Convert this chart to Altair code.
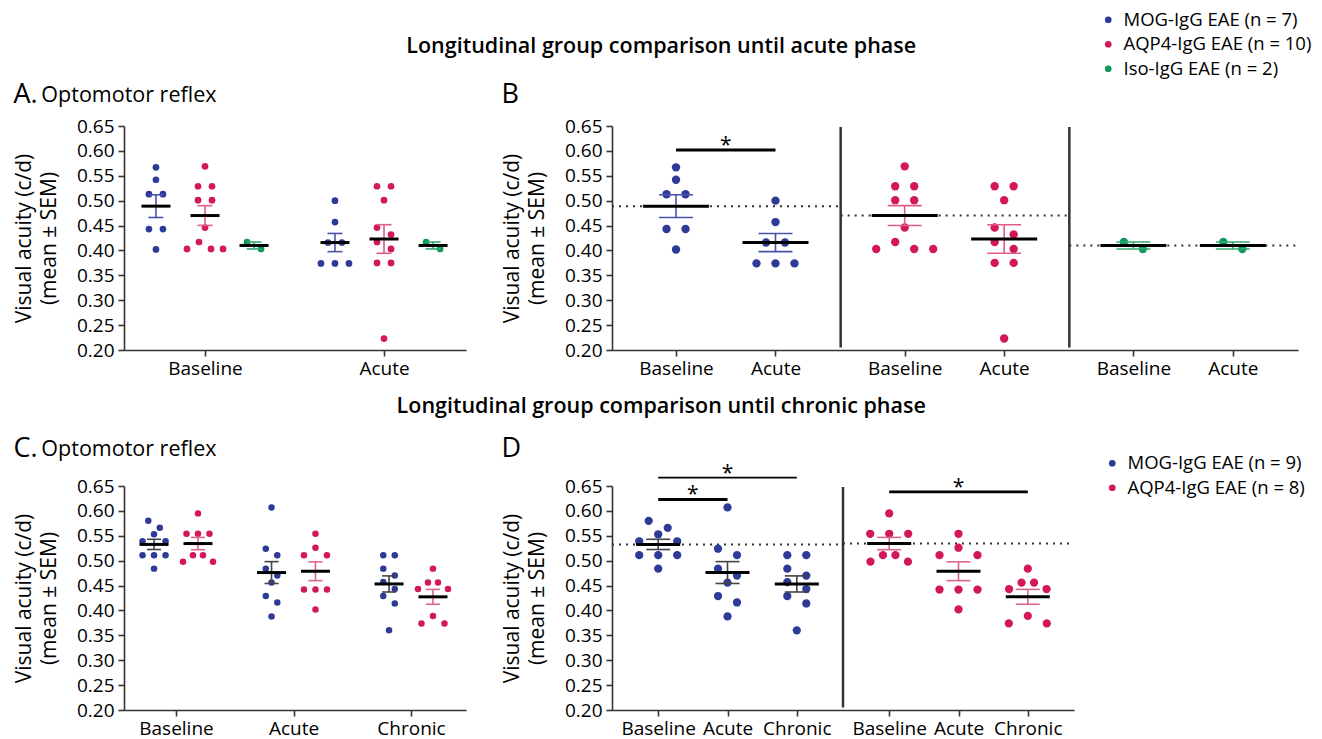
import json
import altair as alt
import numpy as np
import pandas as pd

FONT = "Open Sans"

# ---------------- data (visual acuity, c/d) ----------------
timepoints = ["Baseline", "Acute", "Chronic"]

# cohort followed until the acute phase (panels A and B)
groups_acute = ["MOG-IgG EAE (n = 7)", "AQP4-IgG EAE (n = 10)", "Iso-IgG EAE (n = 2)"]
mog7_baseline = [0.567, 0.542, 0.513, 0.513, 0.443, 0.443, 0.402]
mog7_acute = [0.500, 0.457, 0.416, 0.416, 0.374, 0.374, 0.374]
aqp4_10_baseline = [0.569, 0.529, 0.529, 0.501, 0.501, 0.446, 0.417, 0.403, 0.403, 0.403]
aqp4_10_acute = [0.529, 0.529, 0.501, 0.446, 0.432, 0.417, 0.403, 0.375, 0.375, 0.223]
iso2_baseline = [0.417, 0.403]
iso2_acute = [0.417, 0.403]

# cohort followed until the chronic phase (panels C and D)
groups_chronic = ["MOG-IgG EAE (n = 9)", "AQP4-IgG EAE (n = 8)"]
mog9_baseline = [0.580, 0.566, 0.553, 0.539, 0.539, 0.511, 0.511, 0.511, 0.484]
mog9_acute = [0.607, 0.524, 0.511, 0.484, 0.470, 0.456, 0.429, 0.416, 0.388]
mog9_chronic = [0.511, 0.511, 0.484, 0.470, 0.457, 0.443, 0.429, 0.414, 0.360]
aqp4_8_baseline = [0.595, 0.554, 0.554, 0.554, 0.511, 0.511, 0.498, 0.498]
aqp4_8_acute = [0.554, 0.526, 0.511, 0.511, 0.442, 0.442, 0.442, 0.402]
aqp4_8_chronic = [0.484, 0.456, 0.456, 0.443, 0.443, 0.389, 0.374, 0.374]

# significance brackets: group index, from timepoint, to timepoint, bracket level
sig_acute = [(0, 0, 1, 0.602)]
sig_chronic = [(0, 0, 1, 0.623), (0, 0, 2, 0.667), (1, 0, 2, 0.638)]

header_acute = "Longitudinal group comparison until acute phase"
header_chronic = "Longitudinal group comparison until chronic phase"
y_title = ["Visual acuity (c/d)", "(mean \u00b1 SEM)"]
y_ticks = [0.20, 0.25, 0.30, 0.35, 0.40, 0.45, 0.50, 0.55, 0.60, 0.65]

# ---------------- styles ----------------
dot_colors_acute = ["#2d3a97", "#d2175c", "#0f995a"]
err_colors_acute = ["#4953ab", "#de5d89", "#34a874"]
dot_colors_chronic = ["#2d3a97", "#d2175c"]
err_colors_chronic = ["#444444", "#d9668f"]
sig_widths_acute = [3.0]
sig_widths_chronic = [3.0, 1.8, 2.8]
PLOT_H = 224

series_acute = [[mog7_baseline, mog7_acute],
                [aqp4_10_baseline, aqp4_10_acute],
                [iso2_baseline, iso2_acute]]
series_chronic = [[mog9_baseline, mog9_acute, mog9_chronic],
                  [aqp4_8_baseline, aqp4_8_acute, aqp4_8_chronic]]


def swarm(values, spacing, spacing4, bin_size=0.02):
    """Spread points that fall in the same vertical bin symmetrically (px)."""
    order = sorted(range(len(values)), key=lambda i: -values[i])
    offs = [0.0] * len(values)
    i = 0
    while i < len(order):
        top = values[order[i]]
        j = i
        while j < len(order) and top - values[order[j]] < bin_size - 1e-9:
            j += 1
        k = j - i
        sp = spacing if k < 4 else spacing4
        slots = sorted([s - (k - 1) / 2 for s in range(k)], key=lambda s: (abs(s), s))
        for n, idx in enumerate(order[i:j]):
            offs[idx] = slots[n] * sp
        i = j
    return offs


def make_panel(series, groups, dot_colors, err_colors, n_tp, center, ppu, domain, width,
               tick_pos, tick_labels, dot_size, spacing, spacing4, mean_hw, cap_hw,
               fill_channel, legend, title, sig=None, sig_widths=None, sections=False):
    pts, stats, caps = [], [], []
    for gi, g in enumerate(groups):
        for ti in range(n_tp):
            vals = series[gi][ti]
            offs = swarm(vals, spacing, spacing4)
            c = center(gi, ti)
            for v, o in zip(vals, offs):
                pts.append({"x": c + o / ppu, "y": v, "grp": g})
            m = float(np.mean(vals))
            s = float(np.std(vals, ddof=1) / np.sqrt(len(vals)))
            stats.append({"cx": c, "m": m, "lo": m - s, "hi": m + s,
                          "mx1": c - mean_hw / ppu, "mx2": c + mean_hw / ppu,
                          "ecol": err_colors[gi]})
            for yv in (m - s, m + s):
                caps.append({"x1": c - cap_hw / ppu, "x2": c + cap_hw / ppu, "y": yv,
                             "ecol": err_colors[gi]})
    pts = pd.DataFrame(pts)
    stats = pd.DataFrame(stats)
    caps = pd.DataFrame(caps)

    xs = alt.Scale(domain=domain, nice=False, zero=False)
    ys = alt.Scale(domain=[0.2, 0.65], nice=False, zero=False)
    label_expr = f"{json.dumps(tick_labels)}[indexof({json.dumps(tick_pos)}, datum.value)]"
    xaxis = alt.Axis(values=tick_pos, labelExpr=label_expr, title=None, grid=False,
                     labelFlush=False, labelOverlap=False, tickSize=6, labelPadding=3)
    yaxis = alt.Axis(values=y_ticks, format=".2f", title=y_title, grid=False,
                     tickSize=6, labelPadding=4, titlePadding=17, labelFlush=False,
                     labelOverlap=False)

    def X(f):
        return alt.X(f, type="quantitative", scale=xs, axis=xaxis)

    def Y(f):
        return alt.Y(f, type="quantitative", scale=ys, axis=yaxis)

    layers = []
    if sections:
        # dotted baseline-mean reference across each group section
        ref = pd.DataFrame([{"x1": gi, "x2": gi + 1,
                             "y": float(np.mean(series[gi][0]))} for gi in range(len(groups))])
        layers.append(alt.Chart(ref).mark_rule(color="#333333", strokeWidth=2,
                                               strokeDash=[2, 5]).encode(
            x=X("x1"), x2="x2", y=Y("y")))
        div = pd.DataFrame([{"x": gi, "y1": 0.205, "y2": 0.648} for gi in range(1, len(groups))])
        layers.append(alt.Chart(div).mark_rule(color="#333333", strokeWidth=2.5).encode(
            x=X("x"), y=Y("y1"), y2="y2"))
    cscale = alt.Scale(domain=groups, range=dot_colors)
    if fill_channel:
        col = {"fill": alt.Fill("grp:N", scale=cscale, legend=legend)}
    else:
        col = {"color": alt.Color("grp:N", scale=cscale, legend=legend)}
    layers.append(alt.Chart(pts).mark_circle(size=dot_size, opacity=1).encode(
        x=X("x"), y=Y("y"), **col))
    layers.append(alt.Chart(stats).mark_rule(strokeWidth=1.6).encode(
        x=X("cx"), y=Y("lo"), y2="hi", stroke=alt.Stroke("ecol:N", scale=None)))
    layers.append(alt.Chart(caps).mark_rule(strokeWidth=1.6).encode(
        x=X("x1"), x2="x2", y=Y("y"), stroke=alt.Stroke("ecol:N", scale=None)))
    layers.append(alt.Chart(stats).mark_rule(color="black", strokeWidth=3).encode(
        x=X("mx1"), x2="mx2", y=Y("m")))
    if sig:
        sdf = pd.DataFrame([{"x1": center(g, a), "x2": center(g, b), "y": lvl,
                             "xm": (center(g, a) + center(g, b)) / 2, "w": w, "t": "*"}
                            for (g, a, b, lvl), w in zip(sig, sig_widths)])
        layers.append(alt.Chart(sdf).mark_rule(color="black").encode(
            x=X("x1"), x2="x2", y=Y("y"),
            strokeWidth=alt.StrokeWidth("w:Q", scale=None)))
        layers.append(alt.Chart(sdf).mark_text(font=FONT, fontSize=21, baseline="alphabetic",
                                               dy=2, color="black").encode(
            x=X("xm"), y=Y("y"), text="t:N"))
    return alt.layer(*layers).properties(width=width, height=PLOT_H, title=title)


def panel_title(letter, sub, offset):
    kw = dict(anchor="start", frame="bounds", font=FONT, fontSize=27, fontWeight="normal",
              color="black", offset=offset)
    if sub:
        # zero-width space keeps the non-breaking spaces from being trimmed
        return alt.Title(letter, subtitle="\u200b" + "\u00a0" * 5 + sub, subtitleFont=FONT,
                         subtitleFontSize=21.5, subtitleColor="black",
                         subtitlePadding=-24, **kw)
    return alt.Title(letter, **kw)


def legend(x, y):
    return alt.Legend(orient="none", legendX=x, legendY=y, title=None, symbolType="circle",
                      symbolSize=45, symbolStrokeWidth=0, labelFont=FONT, labelFontSize=18.5,
                      labelColor="black", rowPadding=5.5, labelOffset=6, padding=0,
                      labelLimit=400)


leg1 = legend(975, -115.5)
leg2 = legend(979, 328)

A = make_panel(series_acute, groups_acute, dot_colors_acute, err_colors_acute, 2,
               lambda g, t: t + (g - 1) * 0.274, 179.0, [-0.4525, 1.458], 342,
               [0, 1], timepoints[:2], 45, 14, 12, 14.5, 7.5, False, leg1,
               panel_title("A.", "Optomotor reflex", 8))
B = make_panel(series_acute, groups_acute, dot_colors_acute, err_colors_acute, 2,
               lambda g, t: g + [0.28, 0.715][t], 228.67, [0, 3], 686,
               [0.28, 0.715, 1.28, 1.715, 2.28, 2.715], timepoints[:2] * 3,
               70, 19, 19, 33, 17, False, leg1, panel_title("B", None, 8),
               sig=sig_acute, sig_widths=sig_widths_acute, sections=True)
C = make_panel(series_chronic, groups_chronic, dot_colors_chronic, err_colors_chronic, 3,
               lambda g, t: t + (g - 0.5) * 0.374, 117.5, [-0.4426, 2.468], 342,
               [0, 1, 2], timepoints, 42, 11.5, 10, 14.5, 7, True, leg2,
               panel_title("C.", "Optomotor reflex", 14))
D = make_panel(series_chronic, groups_chronic, dot_colors_chronic, err_colors_chronic, 3,
               lambda g, t: g + [0.2, 0.5, 0.8][t], 231.0, [0, 2], 462,
               [0.2, 0.5, 0.8, 1.2, 1.5, 1.8], timepoints * 2,
               68, 19, 12.5, 22, 12, True, leg2, panel_title("D", None, -0.5),
               sig=sig_chronic, sig_widths=sig_widths_chronic, sections=True)

head = dict(anchor="middle", font=FONT, fontSize=21.5, fontWeight=600, color="black")
row1 = alt.hconcat(A, B, spacing=35, title=alt.Title(header_acute, offset=24, dx=5, **head))
row2 = alt.hconcat(C, D, spacing=35, title=alt.Title(header_chronic, offset=18, dx=117, **head))

chart = alt.vconcat(row1, row2, spacing=17).properties(
    padding={"left": 5, "top": 2, "right": 0, "bottom": 0}
).configure_view(stroke=None).configure_axis(
    labelFont=FONT, labelFontSize=19, labelColor="black",
    titleFont=FONT, titleFontSize=21, titleFontWeight="normal", titleColor="black",
    titleLineHeight=25, domainColor="#333333", domainWidth=1.6,
    tickColor="#333333", tickWidth=1.6
)

chart.save("out.html", embed_options={"renderer": "svg", "actions": False})
